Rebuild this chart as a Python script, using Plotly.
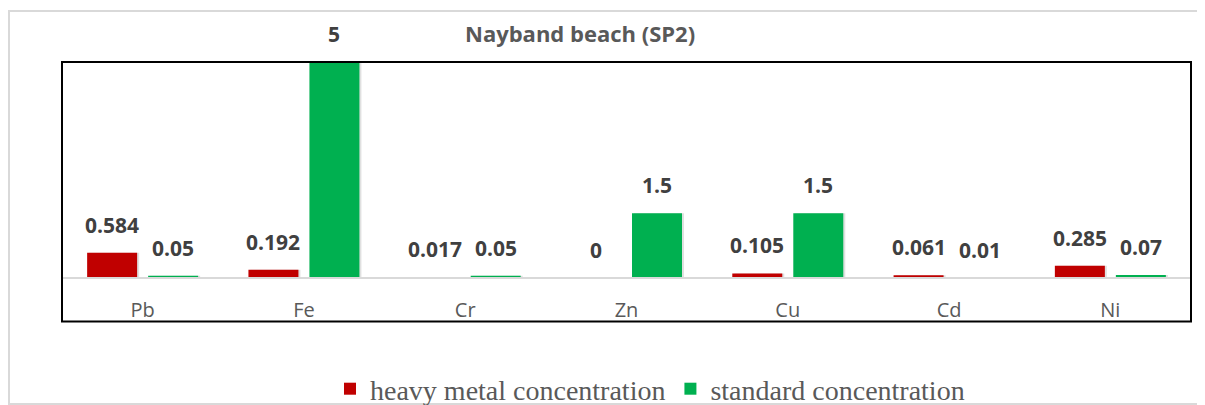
import plotly.graph_objects as go

metals = ["Pb", "Fe", "Cr", "Zn", "Cu", "Cd", "Ni"]
heavy = [0.584, 0.192, 0.017, 0, 0.105, 0.061, 0.285]
standard = [0.05, 5, 0.05, 1.5, 1.5, 0.01, 0.07]
heavy_labels = ["0.584", "0.192", "0.017", "0", "0.105", "0.061", "0.285"]
standard_labels = ["0.05", "5", "0.05", "1.5", "1.5", "0.01", "0.07"]

RED = "#C00000"
GREEN = "#00B050"

# the page body adds an 8px margin, so the figure is drawn 8px smaller/shifted
W, H = 1197, 397
PL, PR, PT, PB = 62 - 8, 1191 - 8, 62 - 8, 278 - 8   # plot area in figure px
plot_w = PR - PL
plot_h = PB - PT

def px_y(ref_y):  # reference pixel y -> paper y
    return (PB - (ref_y - 8)) / plot_h

def px_x(ref_x):
    return ((ref_x - 8) - PL) / plot_w

cat_px = plot_w / len(metals)
BW = 50 / cat_px            # bar width in category units
OFF_H = -(30.5 + 25) / cat_px
OFF_S = (30.5 - 25) / cat_px
SH_DX = 2 / cat_px
SH_DY = 8 / plot_h * 5      # shadow depth below baseline in data units

fig = go.Figure()
# soft drop shadows
for vals, off in ((heavy, OFF_H), (standard, OFF_S)):
    fig.add_trace(go.Bar(x=metals, y=[v + SH_DY if v > 0 else 0 for v in vals],
                         base=-SH_DY, width=BW, offset=off + SH_DX,
                         marker=dict(color="rgba(0,0,0,0.12)", line=dict(width=0)),
                         showlegend=False, hoverinfo="skip"))
fig.add_trace(go.Bar(x=metals, y=heavy, name="heavy metal concentration",
                     width=BW, offset=OFF_H,
                     marker=dict(color=RED, line=dict(width=0))))
fig.add_trace(go.Bar(x=metals, y=standard, name="standard concentration",
                     width=BW, offset=OFF_S,
                     marker=dict(color=GREEN, line=dict(width=0))))

label_font = dict(family="Open Sans", size=21, color="#404040", weight="bold")
ann = []
for m, v, t in zip(metals, heavy, heavy_labels):
    ann.append(dict(x=m, y=v, text=t, xshift=-30.5, yshift=12, yanchor="bottom",
                    showarrow=False, font=label_font))
for m, v, t in zip(metals, standard, standard_labels):
    ann.append(dict(x=m, y=v, text=t, xshift=30.5, yshift=12, yanchor="bottom",
                    showarrow=False, font=label_font))
ann.append(dict(x=px_x(580), y=px_y(33), xref="paper", yref="paper",
                text="<b>Nayband beach (SP2)</b>", showarrow=False,
                xanchor="center", yanchor="middle",
                font=dict(family="Open Sans", size=22, color="#595959")))

shapes = [
    dict(type="rect", xref="paper", yref="paper", x0=0, x1=1, y0=px_y(321.5), y1=1,
         line=dict(color="black", width=2), layer="above"),
    dict(type="rect", xref="paper", yref="paper", x0=px_x(9), x1=px_x(1220),
         y0=px_y(404), y1=px_y(11),
         line=dict(color="#d9d9d9", width=2), layer="below"),
]

fig.update_layout(
    width=W, height=H,
    margin=dict(l=PL, r=W - PR, t=PT, b=H - PB, autoexpand=False),
    paper_bgcolor="white", plot_bgcolor="white",
    barmode="overlay",
    showlegend=True,
    legend=dict(orientation="h", x=px_x(650), xanchor="center",
                y=px_y(389), yanchor="middle",
                font=dict(family="Liberation Serif", size=28, color="#595959"),
                bgcolor="rgba(0,0,0,0)", itemwidth=30),
    annotations=ann,
    shapes=shapes,
    xaxis=dict(showgrid=False, showline=False, zeroline=False,
               ticks="outside", ticklen=14, tickcolor="rgba(0,0,0,0)",
               tickfont=dict(family="Open Sans", size=20, color="#595959")),
    yaxis=dict(range=[0, 5], visible=True, showticklabels=False, showgrid=False,
               zeroline=True, zerolinecolor="#d9d9d9", zerolinewidth=2,
               zerolinelayer="above traces", showline=False, ticks=""),
)

fig.write_html("out.html")
